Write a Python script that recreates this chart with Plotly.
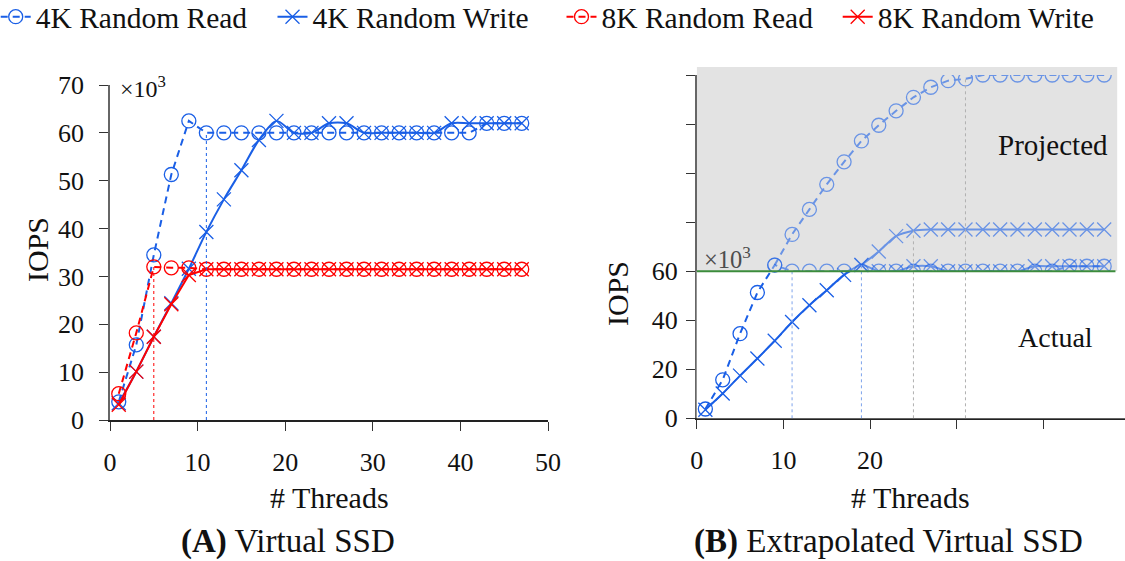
import plotly.graph_objects as go

W, H = 1125, 561

# ---- data (IOPS in thousands) ----
threads = [1, 3, 5, 7, 9, 11, 13, 15, 17, 19, 21, 23, 25, 27, 29, 31, 33, 35, 37, 39, 41, 43, 45, 47]
read_4k = [3.8, 15.7, 34.5, 51.3, 62.5, 60, 60, 60, 60, 60, 60, 60, 60, 60, 60, 60, 60, 60, 60, 60, 60, 62, 62, 62]
write_4k = [3.5, 10.1, 17.4, 24.4, 31.6, 39.3, 46.1, 52.2, 58.5, 62.5, 60, 60, 62, 62, 60, 60, 60, 60, 60, 62, 62, 62, 62, 62]
read_8k = [5.5, 18.2, 32, 31.8, 31.8, 31.5, 31.5, 31.5, 31.5, 31.5, 31.5, 31.5, 31.5, 31.5, 31.5, 31.5, 31.5, 31.5, 31.5, 31.5, 31.5, 31.5, 31.5, 31.5]
write_8k = [3.2, 10.1, 17.4, 24.2, 30.3, 31.5, 31.5, 31.5, 31.5, 31.5, 31.5, 31.5, 31.5, 31.5, 31.5, 31.5, 31.5, 31.5, 31.5, 31.5, 31.5, 31.5, 31.5, 31.5]

# extrapolated curves beyond the device cap
proj_read_threads = [9, 11, 13, 15, 17, 19, 21, 23, 25, 27, 29, 31, 33, 35, 37, 39, 41, 43, 45, 47]
proj_read = [62.5, 75, 85.2, 95.4, 104.6, 113.1, 119.5, 125.4, 130.9, 135, 137.7, 138.4, 140, 140, 140, 140, 140, 140, 140, 140]
proj_write_threads = [19, 21, 23, 25, 27, 29, 31, 33, 35, 37, 39, 41, 43, 45, 47]
proj_write = [62.5, 68, 74.3, 76.5, 77, 77, 77, 77, 77, 77, 77, 77, 77, 77, 77]

actual_cap = 60          # measured ceiling of the virtual SSD
n_read_rise = 5          # points of the 4K read ramp
n_write_rise = 10        # points of the 4K write ramp

left_xticks = [0, 10, 20, 30, 40, 50]
left_yticks = [0, 10, 20, 30, 40, 50, 60, 70]
right_xticks = [0, 10, 20]
right_xminor = [30, 40]
right_yticks = [0, 20, 40, 60]
right_yminor = [80, 100, 120, 140]

series_names = ["4K Random Read", "4K Random Write", "8K Random Read", "8K Random Write"]

# ---- styling ----
BLUE = "#1a5fe6"
RED = "#ff0000"
GREEN = "#3c8c3c"
FONT = "Liberation Serif"
MS = 14


def px(x):
    return x / W


def py(y):
    return 1 - y / H


# layout geometry (pixels)
L_X0, L_X1 = 110, 548
L_Y0, L_Y1 = 420, 85
R_X0, R_X1 = 696.7, 1125
R_Y0, R_Y1 = 418.3, 75
R_TOP = 67
R_YMAX = 140
R_XMAX = 49.4

r_cap_paper = py(R_Y0) + (py(R_Y1) - py(R_Y0)) * actual_cap / R_YMAX

fig = go.Figure()


def read_style(color, opacity=1.0):
    return dict(mode="lines+markers",
                line=dict(color=color, width=2, dash="7px,5px"),
                marker=dict(symbol="circle-open", size=MS, color=color, line=dict(width=1.3, color=color)),
                opacity=opacity)


def write_style(color, opacity=1.0, spline=True):
    return dict(mode="lines+markers",
                line=dict(color=color, width=2, shape="spline" if spline else "linear", smoothing=0.8),
                marker=dict(symbol="x-thin-open", size=MS, color=color, line=dict(width=1.3, color=color)),
                opacity=opacity)


# ---- (A) Virtual SSD ----
fig.add_trace(go.Scatter(x=threads, y=read_4k, name=series_names[0], legend="legend",
                         xaxis="x", yaxis="y", **read_style(BLUE)))
fig.add_trace(go.Scatter(x=threads, y=write_4k, name=series_names[1], legend="legend2",
                         xaxis="x", yaxis="y", **write_style(BLUE)))
fig.add_trace(go.Scatter(x=threads, y=read_8k, name=series_names[2], legend="legend3",
                         xaxis="x", yaxis="y", **read_style(RED)))
fig.add_trace(go.Scatter(x=threads, y=write_8k, name=series_names[3], legend="legend4",
                         xaxis="x", yaxis="y", **write_style(RED, spline=False)))

# ---- (B) Extrapolated Virtual SSD ----
LIGHT = 0.6
for xs, ys, style in [
    (threads, read_4k, read_style(BLUE, LIGHT)),
    (threads, write_4k, write_style(BLUE, LIGHT)),
    (proj_read_threads, proj_read, read_style(BLUE, LIGHT)),
    (proj_write_threads, proj_write, write_style(BLUE, LIGHT)),
]:
    fig.add_trace(go.Scatter(x=xs, y=ys, showlegend=False, xaxis="x2", yaxis="y2", **style))

# ramp portions below the cap, full strength (clipped by y3's domain)
fig.add_trace(go.Scatter(x=threads[:n_read_rise], y=read_4k[:n_read_rise], showlegend=False,
                         xaxis="x2", yaxis="y3", **read_style(BLUE)))
fig.add_trace(go.Scatter(x=threads[:n_write_rise], y=write_4k[:n_write_rise], showlegend=False,
                         xaxis="x2", yaxis="y3", **write_style(BLUE)))

shapes = []
# saturation guides
i_read_sat = read_4k.index(actual_cap)
i_8k_sat = 2
shapes.append(dict(type="line", xref="x", yref="y", x0=threads[i_8k_sat], x1=threads[i_8k_sat],
                   y0=0, y1=read_8k[i_8k_sat], line=dict(color=RED, width=1, dash="dot")))
shapes.append(dict(type="line", xref="x", yref="y", x0=threads[i_read_sat], x1=threads[i_read_sat],
                   y0=0, y1=read_4k[i_read_sat], line=dict(color=BLUE, width=1, dash="dot")))

# projected region
shapes.append(dict(type="rect", xref="x2", yref="paper", x0=0, x1=48.5, y0=r_cap_paper, y1=py(R_TOP),
                   fillcolor="#e3e3e3", line=dict(width=0), layer="below"))
shapes.append(dict(type="line", xref="x2", yref="y2", x0=threads[i_read_sat], x1=threads[i_read_sat],
                   y0=0, y1=read_4k[i_read_sat], line=dict(color="#7ea4ec", width=1, dash="dot")))
shapes.append(dict(type="line", xref="x2", yref="y2", x0=threads[n_write_rise - 1], x1=threads[n_write_rise - 1],
                   y0=0, y1=write_4k[n_write_rise - 1], line=dict(color="#7ea4ec", width=1, dash="dot")))
i_pw = proj_write_threads.index(25)
shapes.append(dict(type="line", xref="x2", yref="y2", x0=proj_write_threads[i_pw], x1=proj_write_threads[i_pw],
                   y0=0, y1=proj_write[i_pw], line=dict(color="#b0b0b0", width=1, dash="dot")))
i_pr = proj_read_threads.index(31)
shapes.append(dict(type="line", xref="x2", yref="y2", x0=proj_read_threads[i_pr], x1=proj_read_threads[i_pr],
                   y0=0, y1=proj_read[i_pr], line=dict(color="#b0b0b0", width=1, dash="dot")))
shapes.append(dict(type="line", xref="x2", yref="y2", x0=0, x1=48.3, y0=actual_cap, y1=actual_cap,
                   line=dict(color=GREEN, width=2)))

axis_common = dict(showgrid=False, zeroline=False, showline=True, linewidth=1.5,
                   ticks="outside", ticklen=9, tickwidth=1, tickcolor="#333",
                   tickfont=dict(family=FONT, size=26, color="#111"))
minor_common = dict(ticks="outside", ticklen=9, tickwidth=1, tickcolor="#333", showgrid=False)

fig.update_layout(
    width=W, height=H,
    margin=dict(l=0, r=0, t=0, b=0, pad=0, autoexpand=False),
    paper_bgcolor="white", plot_bgcolor="white",
    font=dict(family=FONT, color="#111"),
    xaxis=dict(domain=[px(L_X0), px(L_X1)], range=[0, 50], anchor="y",
               tickvals=left_xticks, linecolor="#222", ticklabelstandoff=9, **axis_common),
    yaxis=dict(domain=[py(L_Y0), py(L_Y1)], range=[0, 70], anchor="x",
               tickvals=left_yticks, linecolor="#666", ticklabelstandoff=10, **axis_common),
    xaxis2=dict(domain=[px(R_X0), px(R_X1)], range=[0, R_XMAX], anchor="y2",
                tickvals=right_xticks, minor=dict(tickvals=right_xminor, **minor_common),
                linecolor="#222", ticklabelstandoff=9, **axis_common),
    yaxis2=dict(domain=[py(R_Y0), py(R_Y1)], range=[0, R_YMAX], anchor="x2",
                tickvals=right_yticks, minor=dict(tickvals=right_yminor, **minor_common),
                linecolor="#666", ticklabelstandoff=3, **axis_common),
    yaxis3=dict(domain=[py(R_Y0), r_cap_paper], range=[0, actual_cap], anchor="x2", visible=False),
    shapes=shapes,
    showlegend=True,
)

legend_common = dict(orientation="h", xanchor="left", yanchor="top", y=1 + 9 / H,
                     bgcolor="rgba(0,0,0,0)", itemwidth=30,
                     font=dict(family=FONT, size=29.5, color="#111"))
fig.update_layout(
    legend=dict(x=px(-4.3), **legend_common),
    legend2=dict(x=px(272.5), **legend_common),
    legend3=dict(x=px(561.5), **legend_common),
    legend4=dict(x=px(837.7), **legend_common),
)

ann = []


def text(x, y, s, size, color="#111", angle=0, xanchor="center"):
    ann.append(dict(x=px(x), y=py(y), xref="paper", yref="paper", text=s, showarrow=False,
                    xanchor=xanchor, yanchor="middle", textangle=angle,
                    font=dict(family=FONT, size=size, color=color)))


text(118, 87, "×10<sup>3</sup>", 24, xanchor="left")
text(702, 258, "×10<sup>3</sup>", 24.5, color="#4d4d4d", xanchor="left")
text(1053, 145, "Projected", 29)
text(1055, 337, "Actual", 28)
text(38, 250, "IOPS", 30, angle=-90)
text(617, 294, "IOPS", 30, angle=-90)
text(329, 497, "# Threads", 30)
text(910, 497, "# Threads", 30)
text(288, 541, "<b>(A)</b> Virtual SSD", 33)
text(888, 541, "<b>(B)</b> Extrapolated Virtual SSD", 33)
fig.update_layout(annotations=ann)

fig.write_html("out.html")
